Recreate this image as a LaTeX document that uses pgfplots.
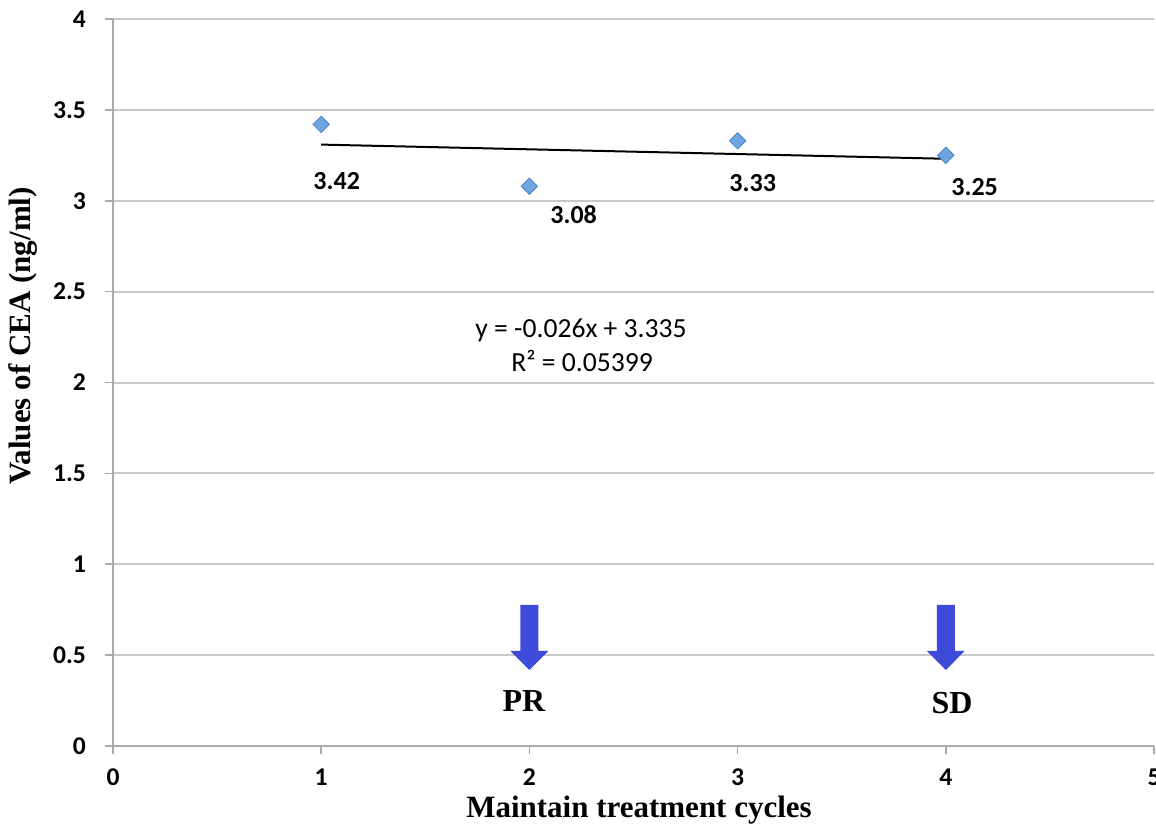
\documentclass[border=0pt]{standalone}
\usepackage{fontspec}
\usepackage{pgfplots}
\pgfplotsset{compat=1.18}
\newfontfamily\carlito{Carlito}
\newfontfamily\timesfont{Liberation Serif}
\definecolor{gridgray}{RGB}{200,200,200}
\definecolor{axisgray}{RGB}{170,170,170}
\definecolor{markblue}{RGB}{110,165,225}
\definecolor{markedge}{RGB}{80,130,200}
\definecolor{arrowblue}{RGB}{62,74,218}

\begin{document}
\begin{tikzpicture}
    \begin{axis}[
        at={(0,0)}, anchor=south west,
        scale only axis,
        width=520.5pt,
        height=363.5pt,
        xmin=0, xmax=5,
        ymin=0, ymax=4,
        xtick={0,1,2,3,4,5},
        ytick={0,0.5,1,1.5,2,2.5,3,3.5,4},
        axis lines*=left,
        axis line style={axisgray, line width=1pt},
        ymajorgrids,
        grid style={gridgray, line width=1pt},
        tick align=outside,
        major tick length=4pt,
        tick style={axisgray, line width=0.8pt},
        /pgf/number format/assume math mode=true,
        ticklabel style={font=\carlito\bfseries\fontsize{12.8}{14}\selectfont},
        xticklabel style={yshift=-4pt},
        yticklabel style={xshift=-6pt},
        xlabel={Maintain treatment cycles},
        ylabel={Values of CEA (ng/ml)},
        label style={font=\timesfont\bfseries\fontsize{15.5}{17}\selectfont},
        xlabel style={at={(axis description cs:0.5053,-0.099)}, anchor=base},
        ylabel style={at={(axis description cs:-0.0865,0.564)}, anchor=center},
        clip=false,
    ]

    % linear trend line y = -0.026x + 3.335
    \addplot[black, line width=1pt] coordinates {
        (1, 3.309)
        (4, 3.231)
    };

    % CEA values
    \addplot[only marks, mark=square*, mark size=2.9pt,
        mark options={rotate=45, fill=markblue, draw=markedge, line width=0.4pt}]
        coordinates {
        (1, 3.42)
        (2, 3.08)
        (3, 3.33)
        (4, 3.25)
    };

    % data labels
    \begin{scope}[every node/.style={font=\carlito\bfseries\fontsize{13}{15}\selectfont, anchor=west, inner sep=0pt}]
        \node at (axis cs:0.961,3.109) {3.42};
        \node at (axis cs:2.099,2.922) {3.08};
        \node at (axis cs:2.959,3.098) {3.33};
        \node at (axis cs:4.025,3.076) {3.25};
    \end{scope}

    % trend equation
    \node[font=\carlito\fontsize{13.8}{15}\selectfont, inner sep=0pt] at (axis cs:2.248,2.289) {y = -0.026x + 3.335};
    \node[font=\carlito\fontsize{13.8}{15}\selectfont, inner sep=0pt] at (axis cs:2.253,2.118) {R² = 0.05399};

    % response arrows
    \fill[arrowblue] (axis cs:1.957,0.776) -- (axis cs:2.043,0.776) -- (axis cs:2.043,0.523)
        -- (axis cs:2.091,0.523) -- (axis cs:2,0.418) -- (axis cs:1.909,0.523)
        -- (axis cs:1.957,0.523) -- cycle;
    \fill[arrowblue] (axis cs:3.957,0.776) -- (axis cs:4.043,0.776) -- (axis cs:4.043,0.523)
        -- (axis cs:4.091,0.523) -- (axis cs:4,0.418) -- (axis cs:3.909,0.523)
        -- (axis cs:3.957,0.523) -- cycle;
    \node[font=\timesfont\bfseries\fontsize{16}{18}\selectfont, inner sep=0pt] at (axis cs:1.974,0.248) {PR};
    \node[font=\timesfont\bfseries\fontsize{16}{18}\selectfont, inner sep=0pt] at (axis cs:4.03,0.237) {SD};

    \end{axis}
    \pgfresetboundingbox
    \path[use as bounding box] (-56.5pt,-42pt) rectangle (521.5pt,373pt);
\end{tikzpicture}
\end{document}
